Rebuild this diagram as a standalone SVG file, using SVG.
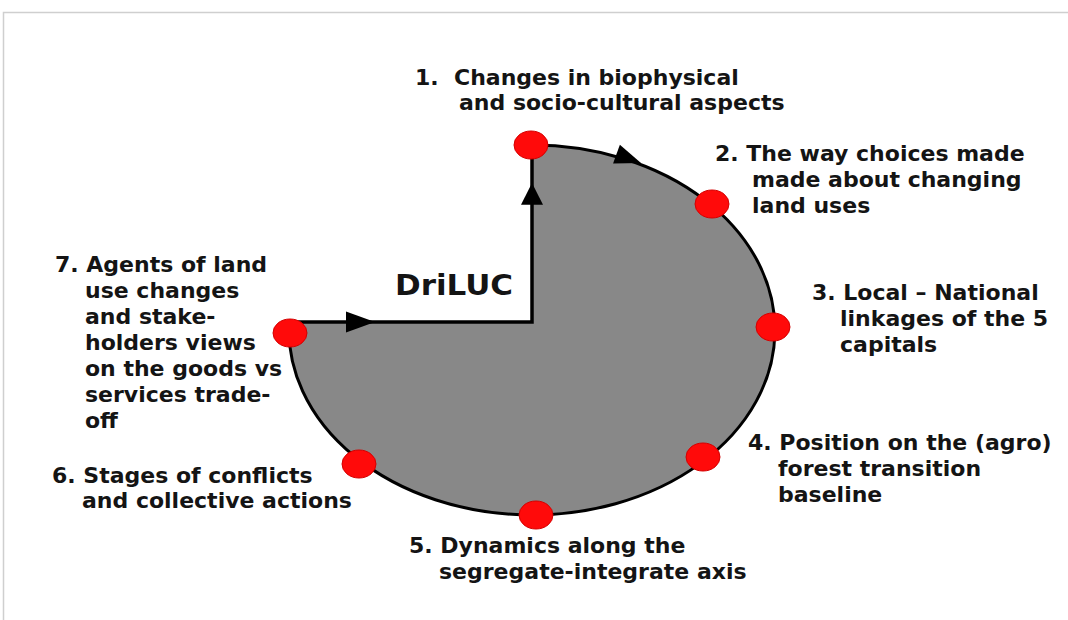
<svg xmlns="http://www.w3.org/2000/svg" width="1068" height="620" viewBox="0 0 1068 620">
<style>
.lbl{font-family:"DejaVu Sans","Verdana",sans-serif;font-weight:bold;font-size:22px;fill:#141414}
.title{font-family:"DejaVu Sans","Verdana",sans-serif;font-weight:bold;font-size:28px;fill:#141414}
.dot{fill:#ff0a0a;stroke:#d40000;stroke-width:1}
.ln{fill:none;stroke:#000;stroke-width:3.5}
.arc{fill:none;stroke:#000;stroke-width:3}
.ah{fill:#000}
</style>
<defs>
<path id="ah" d="M0,0 L-29,-10.5 L-29,10.5 Z"/>
</defs>
<rect x="0" y="0" width="1068" height="620" fill="#fff"/>
<path d="M3.5,620 V12.5 H1068" fill="none" stroke="#cfcfcf" stroke-width="1.5"/>
<g id="pie">
<path d="M532,322 L289.2,322 A243 185 0 1 0 532,145 Z" fill="#888"/>
<text class="title" x="395" y="295" textLength="118" lengthAdjust="spacingAndGlyphs">DriLUC</text>
</g>
<g id="connectors">
<path class="arc" d="M289.2,322 A243 185 0 1 0 532,145"/>
<path class="ln" d="M290,322 H532 V145"/>
<use href="#ah" class="ah" transform="translate(375,322)"/>
<use href="#ah" class="ah" transform="translate(532,183) rotate(-90) scale(0.75,1.05)"/>
<use href="#ah" class="ah" transform="translate(641,163) rotate(20) scale(0.9,0.95)"/>
</g>
<g id="node1">
<ellipse class="dot" cx="531" cy="145" rx="17" ry="14"/>
<text class="lbl" x="415" y="85" xml:space="preserve">1.  Changes in biophysical</text>
<text class="lbl" x="459" y="110">and socio-cultural aspects</text>
</g>
<g id="node2">
<ellipse class="dot" cx="712" cy="204" rx="17" ry="14"/>
<text class="lbl" x="715" y="161">2. The way choices made</text>
<text class="lbl" x="752" y="187">made about changing</text>
<text class="lbl" x="752" y="213">land uses</text>
</g>
<g id="node3">
<ellipse class="dot" cx="773" cy="327" rx="17" ry="14"/>
<text class="lbl" x="812" y="300">3. Local – National</text>
<text class="lbl" x="840" y="326">linkages of the 5</text>
<text class="lbl" x="840" y="352">capitals</text>
</g>
<g id="node4">
<ellipse class="dot" cx="703" cy="457" rx="17" ry="14"/>
<text class="lbl" x="748" y="450">4. Position on the (agro)</text>
<text class="lbl" x="778" y="476">forest transition</text>
<text class="lbl" x="778" y="502">baseline</text>
</g>
<g id="node5">
<ellipse class="dot" cx="536" cy="515" rx="17" ry="14"/>
<text class="lbl" x="409" y="553">5. Dynamics along the</text>
<text class="lbl" x="439" y="579">segregate-integrate axis</text>
</g>
<g id="node6">
<ellipse class="dot" cx="359" cy="464" rx="17" ry="14"/>
<text class="lbl" x="52" y="483">6. Stages of conflicts</text>
<text class="lbl" x="82" y="508">and collective actions</text>
</g>
<g id="node7">
<ellipse class="dot" cx="290" cy="333" rx="17" ry="14"/>
<text class="lbl" x="55" y="272">7. Agents of land</text>
<text class="lbl" x="85" y="298">use changes</text>
<text class="lbl" x="85" y="324">and stake-</text>
<text class="lbl" x="85" y="350">holders views</text>
<text class="lbl" x="85" y="376">on the goods vs</text>
<text class="lbl" x="85" y="402">services trade-</text>
<text class="lbl" x="85" y="428">off</text>
</g>
</svg>
